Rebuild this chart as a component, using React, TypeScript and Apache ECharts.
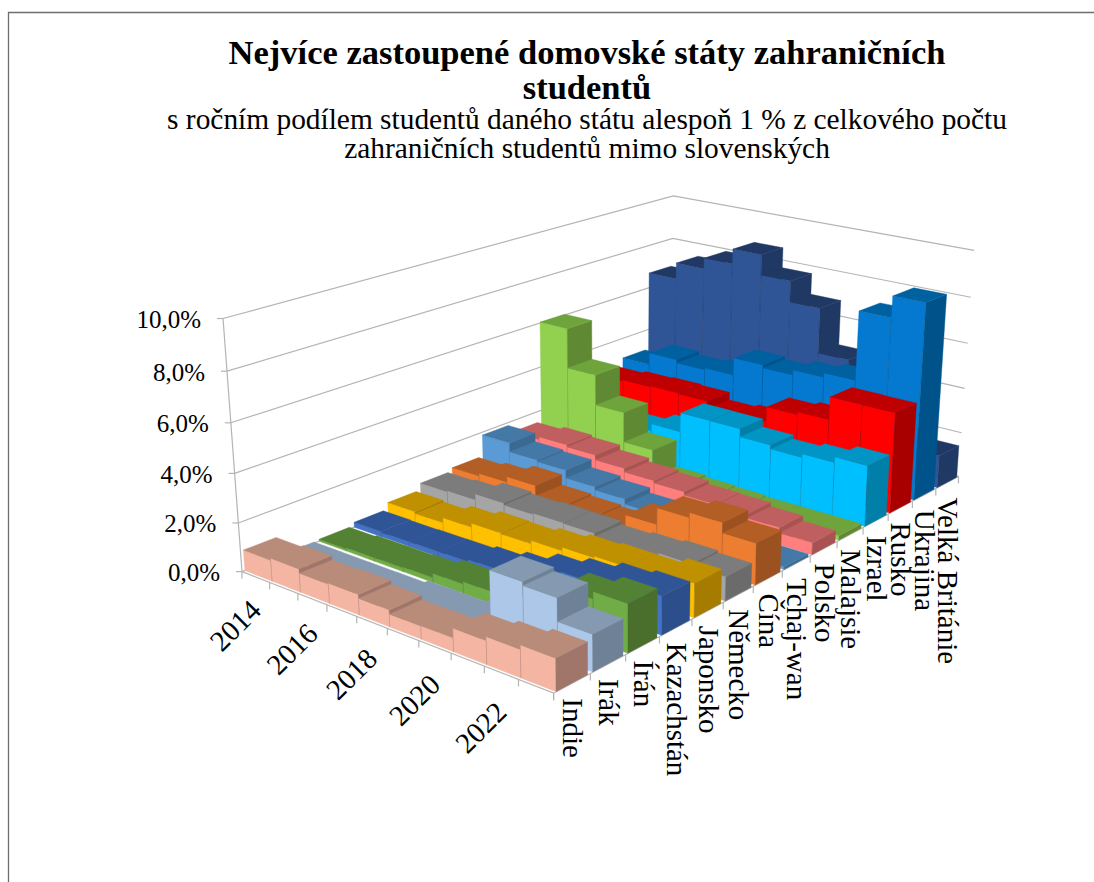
import React, { useEffect, useRef } from "react";
import * as echarts from "echarts";

const years = ["2014","2015","2016","2017","2018","2019","2020","2021","2022","2023"];
const countries = ["Indie","Irák","Írán","Kazachstán","Japonsko","Německo","Čína","Tchaj-wan","Polsko","Malajsie","Izrael","Rusko","Ukrajina","Velká Británie"];
const valueTicks = [0,2,4,6,8,10];
const valueLabels = ["0,0%","2,0%","4,0%","6,0%","8,0%","10,0%"];

const indie = [0.85,0.94,0.77,0.82,0.67,0.51,0.53,0.91,1.07,1.24];
const irak = [0.05,0.05,0.05,0.05,0.17,0.17,0.3,2.47,2.32,1.42];
const iran = [0.08,0.14,0.15,0.19,0.38,0.49,0.7,1.1,1.62,1.9];
const kazachstan = [0.21,0.19,0.21,0.22,0.33,0.53,0.89,1.14,1.39,1.52];
const japonsko = [0.49,0.42,0.64,0.81,0.78,0.92,1.07,1.14,1.13,1.37];
const nemecko = [0.78,0.84,1.09,1.01,1.06,1.04,0.9,0.98,1.07,0.98];
const cina = [0.92,1.05,1.29,0.83,0.75,0.68,1.22,1.92,2.13,1.71];
const tchajwan = [1.87,1.48,1.41,1.06,0.92,0.7,0.45,0.3,0.2,0.12];
const polsko = [1.5,1.63,1.54,1.32,1.16,1.06,0.92,0.89,0.73,0.5];
const malajsie = [6.04,4.28,2.93,1.6,0.39,0.3,0.25,0.2,0.2,0.2];
const izrael = [1.3,1.45,1.6,1.91,2.77,2.76,2.4,2.23,2.38,2.62];
const rusko = [2.69,2.79,2.84,2.8,2.45,2.56,3.23,3.36,4.36,4.35];
const ukrajina = [3.06,3.61,3.46,3.54,4.32,4.19,4.42,4.61,7.62,8.55];
const velkaBritanie = [6.7,7.44,7.93,8.6,7.69,6.75,4.73,2.6,1.8,1.44];
const rows = [indie,irak,iran,kazachstan,japonsko,nemecko,cina,tchajwan,polsko,malajsie,izrael,rusko,ukrajina,velkaBritanie];

const palette = [
  ["#F4B6A3","#B98C7A","#A0756A"],["#ADC7E8","#8599B0","#6F8196"],["#70AD47","#548235","#4A6F2D"],
  ["#4472C4","#2F5597","#2C4E8A"],["#FFC000","#BF9000","#A67C00"],["#A5A5A5","#7C7C7C","#6B6B6B"],
  ["#ED7D31","#B35E24","#9C5220"],["#5B9BD5","#4478A6","#3A6A92"],["#FF7F7F","#C05F5F","#A85252"],
  ["#92D050","#6FA33C","#5F8A33"],["#00BFFF","#0095C5","#0080A8"],["#FF0000","#C00000","#A80000"],
  ["#0579D0","#0061A0","#00538A"],["#2F5597","#203864","#1F3864"],
];

// Camera calibration of the box (u: years, v: countries, h: value / max) -> page pixels.
const calib: number[][] = [
  [0,0,0,241.7,571],[1,0,0,554,693.3],[1,1,0,958.3,476.7],[0,1,0,671,401.6],
  [0,0,1,223,319],[0,1,1,673.5,196],[1,1,1,974,250],
];
function solveCamera(): number[] {
  const n = 11; const A: number[][] = Array.from({length:n},()=>new Array(n+1).fill(0));
  const add = (r:number[], b:number) => { for (let i=0;i<n;i++){ for(let j=0;j<n;j++) A[i][j]+=r[i]*r[j]; A[i][n]+=r[i]*b; } };
  for (const [u,v,h,X,Y] of calib) {
    const x=X/1000,y=Y/1000;
    add([u,v,h,1,0,0,0,0,-x*u,-x*v,-x*h],x);
    add([0,0,0,0,u,v,h,1,-y*u,-y*v,-y*h],y);
  }
  for (let c=0;c<n;c++){
    let p=c; for(let r=c+1;r<n;r++) if(Math.abs(A[r][c])>Math.abs(A[p][c])) p=r;
    [A[c],A[p]]=[A[p],A[c]];
    for(let r=0;r<n;r++){ if(r===c) continue; const f=A[r][c]/A[c][c]; for(let k=c;k<=n;k++) A[r][k]-=f*A[c][k]; }
  }
  return A.map((r,i)=>r[n]/r[i]);
}
const m = solveCamera();
const proj = (u:number,v:number,h:number):[number,number] => {
  const w = m[8]*u+m[9]*v+m[10]*h+1;
  return [1000*(m[0]*u+m[1]*v+m[2]*h+m[3])/w, 1000*(m[4]*u+m[5]*v+m[6]*h+m[7])/w];
};
const MAXV = 10;
const NY = years.length, NC = countries.length;
const AXIS = "#B4B4B4";
const FONT = "'Liberation Serif', serif";

function barItem(row:number){
  return (_p:any, api:any) => {
    const i = api.value(0), val = api.value(1);
    const u0=(i+0.006)/NY, u1=(i+0.994)/NY, v0=(row+0.07)/NC, v1=(row+0.93)/NC, h=val/MAXV;
    const c = palette[row];
    const face = (pts:[number,number][], fill:string) => ({type:"polygon",shape:{points:pts},style:{fill,stroke:fill,lineWidth:0.4}});
    return {type:"group",children:[
      face([proj(u0,v0,0),proj(u1,v0,0),proj(u1,v0,h),proj(u0,v0,h)],c[0]),
      face([proj(u1,v0,0),proj(u1,v1,0),proj(u1,v1,h),proj(u1,v0,h)],c[2]),
      face([proj(u0,v0,h),proj(u1,v0,h),proj(u1,v1,h),proj(u0,v1,h)],c[1]),
    ]};
  };
}
const line = (pts:[number,number][], w=1.2) => ({type:"polyline",shape:{points:pts},style:{stroke:AXIS,lineWidth:w,fill:"none"}});

export default function App(){
  const ref = useRef<HTMLDivElement>(null);
  useEffect(()=>{
    const chart = echarts.init(ref.current!, undefined, {renderer:"svg"});
    const series:any[] = [];
    series.push({type:"custom",name:"walls",coordinateSystem:"none",silent:true,
      data:valueTicks.map((t,i)=>[t,i]),
      renderItem:(_p:any,api:any)=>{
        const t=api.value(0),i=api.value(1),h=t/MAXV;
        const a=proj(0,0,h);
        return {type:"group",children:[
          line([a,proj(0,1,h),proj(1,1,h)]),
          line([a,[a[0]-6,a[1]]]),
          {type:"text",x:a[0]-22,y:a[1]+1,style:{text:valueLabels[i],fontFamily:FONT,fontSize:25,fill:"#000",align:"right",verticalAlign:"middle"}},
        ]};
      }});
    series.push({type:"custom",name:"floor",coordinateSystem:"none",silent:true,data:[0],
      renderItem:()=>{
        const ch:any[]=[line([proj(0,0,0),proj(0,0,1)]),line([proj(0,0,0),proj(1,0,0),proj(1,1,0)])];
        for(let i=0;i<=NY;i++){const a=proj(i/NY,0,0);ch.push(line([a,[a[0],a[1]+7]]));}
        for(let i=0;i<=NC;i++){const a=proj(1,i/NC,0);ch.push(line([a,[a[0],a[1]+7]]));}
        return {type:"group",children:ch};
      }});
    for(let r=NC-1;r>=0;r--){
      series.push({type:"custom",name:countries[r],coordinateSystem:"none",silent:true,
        data:rows[r].map((v,i)=>[i,v]),renderItem:barItem(r)});
    }
    series.push({type:"custom",name:"yearLabels",coordinateSystem:"none",silent:true,
      data:years.map((_,i)=>[i]).filter(d=>d[0]%2===0),
      renderItem:(_p:any,api:any)=>{
        const i=api.value(0),u=(i+0.5)/NY,a=proj(u,0,0);
        return {type:"text",x:a[0]-20.5,y:a[1]+48+8*u,rotation:Math.PI/4,
          style:{text:years[i],fontFamily:FONT,fontSize:29,fill:"#000",align:"center",verticalAlign:"middle"}};
      }});
    series.push({type:"custom",name:"countryLabels",coordinateSystem:"none",silent:true,
      data:countries.map((_,i)=>[i]),
      renderItem:(_p:any,api:any)=>{
        const i=api.value(0),a=proj(1,(i+0.5)/NC,0);
        return {type:"text",x:a[0]+1,y:a[1]+15,rotation:-Math.PI/2,
          style:{text:countries[i],fontFamily:FONT,fontSize:29,fill:"#000",align:"left",verticalAlign:"middle"}};
      }});
    chart.setOption({
      animation:false,
      backgroundColor:"#fff",
      title:[
        {text:"Nejvíce zastoupené domovské státy zahraničních\nstudentů",left:582,top:29.75,textAlign:"center",
          textStyle:{fontFamily:FONT,fontWeight:"bold",fontSize:34.5,lineHeight:34.5,color:"#000"}},
        {text:"s ročním podílem studentů daného státu alespoň 1 % z celkového počtu\nzahraničních studentů mimo slovenských",left:582,top:98.8,textAlign:"center",
          textStyle:{fontFamily:FONT,fontWeight:"normal",fontSize:29.4,lineHeight:29.5,color:"#000"}},
      ],
      graphic:[{type:"polyline",shape:{points:[[8.5,882],[8.5,12.5],[1094,12.5]]},style:{stroke:"#6E6E6E",lineWidth:1.3,fill:"none"}}],
      series,
    });
    return ()=>chart.dispose();
  },[]);
  return <div ref={ref} style={{position:"absolute",left:0,top:0,width:1094,height:882}}/>;
}
